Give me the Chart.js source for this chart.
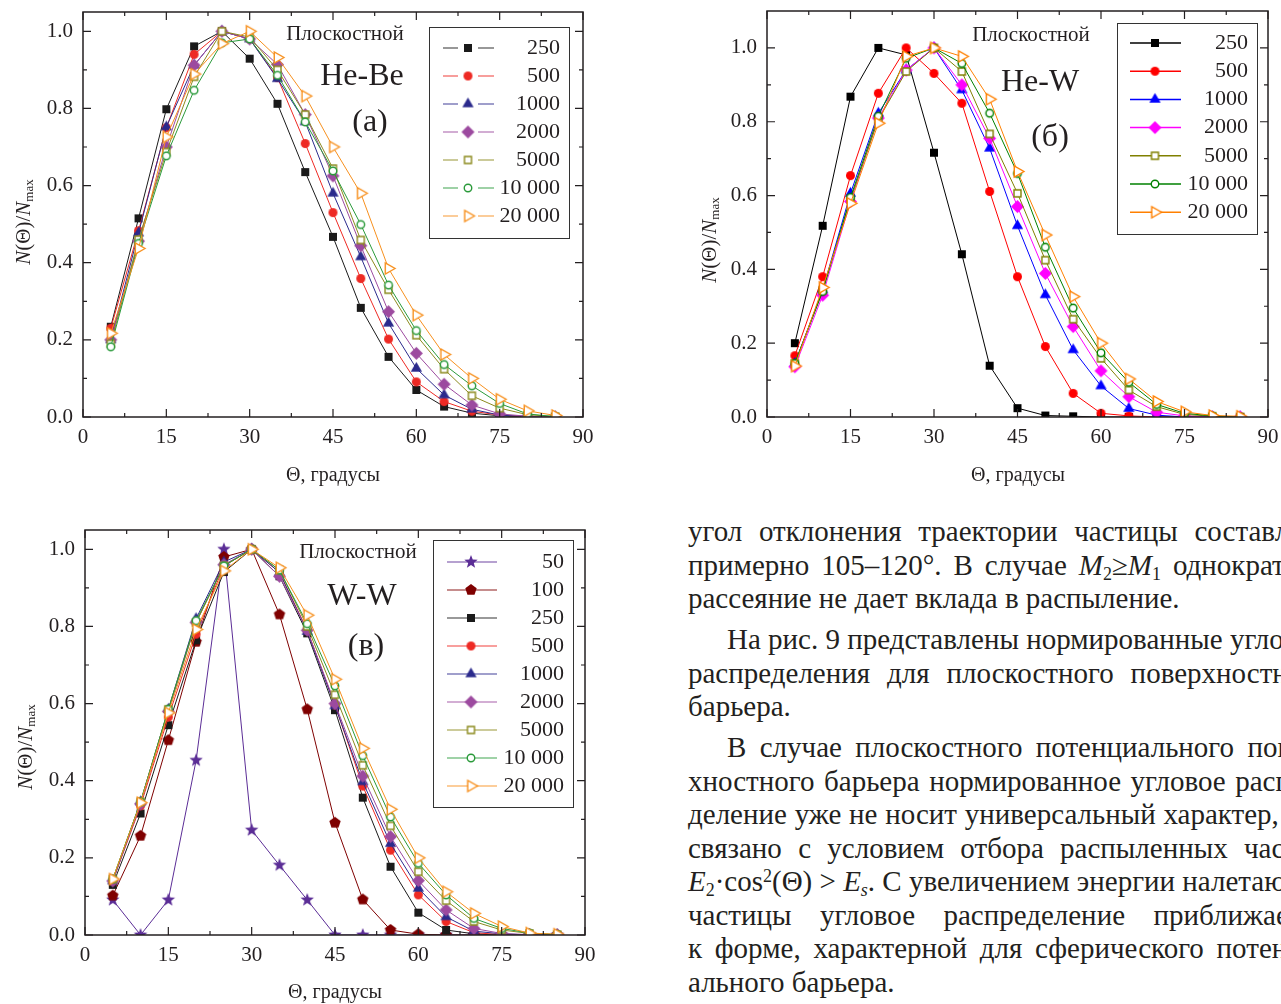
<!DOCTYPE html>
<html lang="ru">
<head>
<meta charset="utf-8">
<title>Угловые распределения, плоскостной барьер</title>
<script src="https://cdn.jsdelivr.net/npm/chart.js@4.4.1/dist/chart.umd.min.js"></script>
<style>
  body { margin: 0; width: 1281px; height: 1004px; position: relative; overflow: hidden; background: #fff; font-family: "Liberation Serif", "Times New Roman", serif; color: #231f20; }
  .panel { position: absolute; }
  .text { position: absolute; left: 688px; top: 515px; width: 640px; white-space: nowrap; font-size: 29px; line-height: 33.5px; }
  .text div { text-align: justify; text-align-last: justify; }
  .text div.end { text-align: left; text-align-last: left; }
  .text div.par { margin-top: 7.5px; padding-left: 39px; }
  .text sub, .text sup { font-size: 0.62em; line-height: 0; }
  .text sub { vertical-align: -0.28em; }
  .text sup { vertical-align: 0.5em; }
</style>
</head>
<body>
<div class="panel" style="left:0;top:0;width:600px;height:500px"><canvas id="chart-a"></canvas></div>
<div class="panel" style="left:680px;top:0;width:601px;height:500px"><canvas id="chart-b"></canvas></div>
<div class="panel" style="left:0;top:520px;width:600px;height:484px"><canvas id="chart-c"></canvas></div>

<div class="text">
  <div>угол отклонения траектории частицы составляет</div>
  <div>примерно 105–120°. В случае <i>M</i><sub>2</sub>≥<i>M</i><sub>1</sub> однократное</div>
  <div class="end">рассеяние не дает вклада в распыление.</div>
  <div class="par">На рис. 9 представлены нормированные угловые</div>
  <div>распределения для плоскостного поверхностного</div>
  <div class="end">барьера.</div>
  <div class="par">В случае плоскостного потенциального повер-</div>
  <div>хностного барьера нормированное угловое распре-</div>
  <div>деление уже не носит универсальный характер, что</div>
  <div>связано с условием отбора распыленных частиц</div>
  <div><i>E</i><sub>2</sub>·cos<sup>2</sup>(Θ) &gt; <i>E<sub>s</sub></i>. С увеличением энергии налетающей</div>
  <div>частицы угловое распределение приближается</div>
  <div>к форме, характерной для сферического потенци-</div>
  <div class="end">ального барьера.</div>
</div>

<script>
// angles of the sputtered particles, degrees
const angles = [5, 10, 15, 20, 25, 30, 35, 40, 45, 50, 55, 60, 65, 70, 75, 80, 85];
const xTicks = [0, 15, 30, 45, 60, 75, 90];
const yTicks = [0.0, 0.2, 0.4, 0.6, 0.8, 1.0];
const energiesHe = ["250", "500", "1000", "2000", "5000", "10 000", "20 000"];
const energiesW = ["50", "100", "250", "500", "1000", "2000", "5000", "10 000", "20 000"];

// He-Be
const heBe250 = [0.234, 0.515, 0.798, 0.961, 1.0, 0.929, 0.812, 0.635, 0.467, 0.283, 0.156, 0.07, 0.027, 0.01, 0.003, 0, 0];
const heBe500 = [0.23, 0.483, 0.75, 0.94, 1.0, 0.98, 0.88, 0.709, 0.53, 0.359, 0.202, 0.091, 0.04, 0.015, 0.005, 0.001, 0];
const heBe1000 = [0.2, 0.477, 0.752, 0.912, 1.0, 0.98, 0.877, 0.765, 0.58, 0.415, 0.243, 0.126, 0.057, 0.02, 0.005, 0.001, 0];
const heBe2000 = [0.2, 0.456, 0.7, 0.912, 1.0, 0.98, 0.914, 0.784, 0.625, 0.444, 0.273, 0.165, 0.085, 0.031, 0.008, 0.002, 0];
const heBe5000 = [0.19, 0.46, 0.687, 0.882, 1.0, 0.985, 0.9, 0.784, 0.644, 0.459, 0.33, 0.212, 0.124, 0.055, 0.023, 0.006, 0.001];
const heBe10000 = [0.182, 0.45, 0.677, 0.847, 0.97, 0.98, 0.886, 0.765, 0.638, 0.499, 0.342, 0.224, 0.136, 0.081, 0.035, 0.008, 0.001];
const heBe20000 = [0.217, 0.437, 0.726, 0.889, 0.968, 1.0, 0.932, 0.832, 0.70, 0.58, 0.385, 0.264, 0.162, 0.1, 0.046, 0.016, 0.004];

// He-W
const heW250 = [0.2, 0.518, 0.868, 1.0, 0.981, 0.716, 0.441, 0.139, 0.024, 0.004, 0.002, 0, 0, 0, 0, 0, 0];
const heW500 = [0.166, 0.38, 0.654, 0.877, 1.0, 0.931, 0.85, 0.611, 0.38, 0.191, 0.064, 0.01, 0.003, 0, 0, 0, 0];
const heW1000 = [0.145, 0.344, 0.606, 0.823, 0.94, 1.0, 0.886, 0.728, 0.518, 0.331, 0.182, 0.084, 0.023, 0.005, 0, 0, 0];
const heW2000 = [0.136, 0.33, 0.584, 0.81, 0.94, 1.0, 0.9, 0.755, 0.57, 0.389, 0.245, 0.125, 0.055, 0.013, 0.003, 0, 0];
const heW5000 = [0.145, 0.344, 0.59, 0.806, 0.936, 1.0, 0.936, 0.767, 0.606, 0.425, 0.265, 0.159, 0.073, 0.028, 0.007, 0.002, 0];
const heW10000 = [0.145, 0.34, 0.595, 0.815, 0.972, 1.0, 0.958, 0.823, 0.66, 0.46, 0.295, 0.174, 0.094, 0.034, 0.01, 0.003, 0];
const heW20000 = [0.138, 0.351, 0.579, 0.796, 0.977, 1.0, 0.977, 0.861, 0.665, 0.493, 0.326, 0.2, 0.103, 0.042, 0.014, 0.004, 0.002];

// W-W
const ww50 = [0.091, 0, 0.091, 0.453, 1.0, 0.272, 0.181, 0.091, 0, 0, 0, 0, 0, 0, 0, 0, 0];
const ww100 = [0.102, 0.257, 0.505, 0.76, 0.98, 1.0, 0.831, 0.585, 0.291, 0.092, 0.013, 0.002, 0, 0, 0, 0, 0];
const ww250 = [0.13, 0.315, 0.544, 0.764, 0.941, 1.0, 0.93, 0.782, 0.583, 0.356, 0.177, 0.058, 0.013, 0.003, 0, 0, 0];
const ww500 = [0.14, 0.335, 0.565, 0.78, 0.957, 1.0, 0.94, 0.79, 0.596, 0.386, 0.22, 0.104, 0.035, 0.006, 0.001, 0, 0];
const ww1000 = [0.14, 0.345, 0.585, 0.82, 0.967, 1.0, 0.94, 0.787, 0.594, 0.397, 0.237, 0.121, 0.047, 0.01, 0.003, 0, 0];
const ww2000 = [0.14, 0.34, 0.58, 0.81, 0.96, 1.0, 0.93, 0.79, 0.6, 0.412, 0.255, 0.141, 0.065, 0.017, 0.004, 0.001, 0];
const ww5000 = [0.145, 0.345, 0.585, 0.81, 0.957, 1.0, 0.946, 0.8, 0.623, 0.44, 0.283, 0.164, 0.089, 0.035, 0.013, 0.004, 0.001];
const ww10000 = [0.145, 0.345, 0.585, 0.815, 0.957, 1.0, 0.946, 0.807, 0.646, 0.465, 0.306, 0.186, 0.104, 0.043, 0.017, 0.005, 0.001];
const ww20000 = [0.145, 0.343, 0.576, 0.792, 0.944, 1.0, 0.952, 0.829, 0.663, 0.484, 0.326, 0.2, 0.112, 0.056, 0.022, 0.005, 0.002];

const ink = "#231f20";
const serif = '"Liberation Serif", "Times New Roman", serif';

// small canvases used as point styles (Chart.js has no filled star or pentagon)
function makeMarker(shape, color, filled, size) {
    const c = document.createElement("canvas");
    c.width = c.height = Math.ceil(size) + 4;
    const g = c.getContext("2d");
    const m = c.width / 2, r = size / 2;
    const poly = (n, start, radii) => {
        for (let i = 0; i < n; i++) {
            const a = start + i * 2 * Math.PI / n;
            const rr = radii ? radii[i % radii.length] : r;
            const px = m + rr * Math.cos(a), py = m + rr * Math.sin(a);
            i === 0 ? g.moveTo(px, py) : g.lineTo(px, py);
        }
        g.closePath();
    };
    g.beginPath();
    if (shape === "square") g.rect(m - r, m - r, size, size);
    else if (shape === "circle") g.arc(m, m, r, 0, Math.PI * 2);
    else if (shape === "diamond") poly(4, -Math.PI / 2);
    else if (shape === "triangle") poly(3, -Math.PI / 2);
    else if (shape === "triRight") poly(3, 0);
    else if (shape === "pentagon") poly(5, -Math.PI / 2);
    else if (shape === "star") poly(10, -Math.PI / 2, [r, r * 0.42]);
    g.fillStyle = filled ? color : "#fff";
    g.fill();
    if (!filled) {
        g.lineWidth = 1.4;
        g.strokeStyle = color;
        g.stroke();
    }
    return c;
}

function series(label, data, color, shape, filled, size) {
    return { label, data, color, marker: makeMarker(shape, color, filled, size) };
}

const panelA = [
    series(energiesHe[0], heBe250, "#1a1a1a", "square", true, 8),
    series(energiesHe[1], heBe500, "#ee2a24", "circle", true, 9),
    series(energiesHe[2], heBe1000, "#2b2a8c", "triangle", true, 13),
    series(energiesHe[3], heBe2000, "#9c4a9f", "diamond", true, 13),
    series(energiesHe[4], heBe5000, "#8c8a1e", "square", false, 7),
    series(energiesHe[5], heBe10000, "#2a9a3a", "circle", false, 7.5),
    series(energiesHe[6], heBe20000, "#f7901e", "triRight", false, 13)
];
const panelB = [
    series(energiesHe[0], heW250, "#000000", "square", true, 8),
    series(energiesHe[1], heW500, "#ff0000", "circle", true, 9),
    series(energiesHe[2], heW1000, "#0000ff", "triangle", true, 13),
    series(energiesHe[3], heW2000, "#ff00ff", "diamond", true, 13),
    series(energiesHe[4], heW5000, "#808000", "square", false, 7),
    series(energiesHe[5], heW10000, "#008000", "circle", false, 7.5),
    series(energiesHe[6], heW20000, "#ff8000", "triRight", false, 13)
];
const panelC = [
    series(energiesW[0], ww50, "#5b2d96", "star", true, 14),
    series(energiesW[1], ww100, "#7f0000", "pentagon", true, 12),
    series(energiesW[2], ww250, "#1a1a1a", "square", true, 8),
    series(energiesW[3], ww500, "#ee2a24", "circle", true, 9),
    series(energiesW[4], ww1000, "#2b2a8c", "triangle", true, 13),
    series(energiesW[5], ww2000, "#9c4a9f", "diamond", true, 13),
    series(energiesW[6], ww5000, "#8c8a1e", "square", false, 7),
    series(energiesW[7], ww10000, "#2a9a3a", "circle", false, 7.5),
    series(energiesW[8], ww20000, "#f7901e", "triRight", false, 13)
];

// axis frame with inward ticks on all four sides, labels, titles, notes and legend
const framePlugin = {
    id: "frame",
    afterDraw(chart, args, opts) {
        const { ctx, chartArea: area, scales: { x, y } } = chart;
        ctx.save();
        ctx.strokeStyle = ink;
        ctx.lineWidth = 1.5;
        ctx.strokeRect(area.left, area.top, area.right - area.left, area.bottom - area.top);

        ctx.lineWidth = 1.2;
        ctx.beginPath();
        for (let i = 0; i <= 12; i++) {
            const px = x.getPixelForValue(i * 7.5);
            const len = i % 2 === 0 ? 8 : 4;
            ctx.moveTo(px, area.bottom); ctx.lineTo(px, area.bottom - len);
            ctx.moveTo(px, area.top); ctx.lineTo(px, area.top + len);
        }
        for (let i = 0; i <= 10; i++) {
            const py = y.getPixelForValue(i / 10);
            const len = i % 2 === 0 ? 8 : 4;
            ctx.moveTo(area.left, py); ctx.lineTo(area.left + len, py);
            ctx.moveTo(area.right, py); ctx.lineTo(area.right - len, py);
        }
        ctx.stroke();

        ctx.fillStyle = ink;
        ctx.font = "21px " + serif;
        ctx.textBaseline = "middle";
        ctx.textAlign = "center";
        xTicks.forEach(v => ctx.fillText(String(v), x.getPixelForValue(v), area.bottom + 20));
        ctx.textAlign = "right";
        yTicks.forEach(v => ctx.fillText(v.toFixed(1), area.left - 10, y.getPixelForValue(v)));

        ctx.font = "20px " + serif;
        ctx.textAlign = "center";
        ctx.fillText("Θ, градусы", opts.xTitle[0], opts.xTitle[1]);

        // N(Θ)/N_max, rotated
        ctx.save();
        ctx.translate(opts.yTitle[0], opts.yTitle[1]);
        ctx.rotate(-Math.PI / 2);
        const parts = [
            ["N", "italic 21px " + serif, 0],
            ["(Θ)/", "21px " + serif, 0],
            ["N", "italic 21px " + serif, 0],
            ["max", "13px " + serif, 6]
        ];
        let total = 0;
        parts.forEach(p => { ctx.font = p[1]; total += ctx.measureText(p[0]).width; });
        let cx = -total / 2;
        ctx.textAlign = "left";
        parts.forEach(p => {
            ctx.font = p[1];
            ctx.fillText(p[0], cx, p[2]);
            cx += ctx.measureText(p[0]).width;
        });
        ctx.restore();

        ctx.textAlign = "center";
        opts.notes.forEach(n => {
            ctx.font = n.size + "px " + serif;
            ctx.fillText(n.text, n.x, n.y);
        });

        const lg = opts.legend;
        ctx.lineWidth = 1;
        ctx.strokeStyle = "#333";
        ctx.strokeRect(lg.box[0] + 0.5, lg.box[1] + 0.5, lg.box[2] - lg.box[0], lg.box[3] - lg.box[1]);
        opts.items.forEach((s, i) => {
            const ly = lg.top + i * lg.step;
            ctx.save();
            ctx.globalAlpha = lg.alpha;
            ctx.strokeStyle = s.color;
            ctx.lineWidth = 1.5;
            ctx.beginPath();
            if (lg.gap) {
                ctx.moveTo(lg.line[0], ly); ctx.lineTo(lg.mark - 10, ly);
                ctx.moveTo(lg.mark + 10, ly); ctx.lineTo(lg.line[1], ly);
            } else {
                ctx.moveTo(lg.line[0], ly); ctx.lineTo(lg.line[1], ly);
            }
            ctx.stroke();
            ctx.restore();
            ctx.drawImage(s.marker, lg.mark - s.marker.width / 2, ly - s.marker.height / 2);
            ctx.font = "22px " + serif;
            ctx.textAlign = "right";
            ctx.fillStyle = ink;
            ctx.fillText(s.label, lg.textRight, ly);
        });
        ctx.restore();
    }
};

function buildChart(id, items, layout) {
    const canvas = document.getElementById(id);
    canvas.width = layout.width;
    canvas.height = layout.height;
    const n = items.length;
    return new Chart(canvas.getContext("2d"), {
        type: "line",
        data: {
            datasets: items.map((s, i) => ({
                label: s.label,
                data: angles.map((a, k) => ({ x: a, y: s.data[k] })),
                borderColor: s.color,
                backgroundColor: s.color,
                borderWidth: 1,
                tension: 0,
                pointStyle: s.marker,
                pointRadius: 5,
                order: n - i
            }))
        },
        options: {
            responsive: false,
            animation: false,
            events: [],
            layout: {
                padding: {
                    left: layout.area[0],
                    top: layout.area[1],
                    right: layout.width - layout.area[2],
                    bottom: layout.height - layout.area[3]
                }
            },
            scales: {
                x: { type: "linear", min: 0, max: 90, display: false },
                y: { type: "linear", min: 0, max: layout.yMax, display: false }
            },
            plugins: {
                legend: { display: false },
                tooltip: { enabled: false },
                frame: {
                    xTitle: layout.xTitle,
                    yTitle: layout.yTitle,
                    notes: layout.notes,
                    legend: layout.legend,
                    items
                }
            }
        },
        plugins: [framePlugin]
    });
}

document.addEventListener("DOMContentLoaded", () => {
    buildChart("chart-a", panelA, {
        width: 600, height: 500, area: [83, 12, 583, 417], yMax: 1.05,
        xTitle: [333, 476], yTitle: [24, 222],
        notes: [
            { text: "Плоскостной", size: 21, x: 345, y: 34 },
            { text: "He-Be", size: 32, x: 362, y: 77 },
            { text: "(a)", size: 32, x: 370, y: 123 }
        ],
        legend: { box: [429, 27, 569, 238], top: 48, step: 28, line: [443, 494], mark: 468, textRight: 560, gap: true, alpha: 0.6 }
    });
    buildChart("chart-b", panelB, {
        width: 601, height: 500, area: [87, 11, 588, 417], yMax: 1.1,
        xTitle: [338, 476], yTitle: [30, 240],
        notes: [
            { text: "Плоскостной", size: 21, x: 351, y: 35 },
            { text: "He-W", size: 32, x: 360, y: 83 },
            { text: "(б)", size: 32, x: 370, y: 138 }
        ],
        legend: { box: [437, 23, 577, 234], top: 43, step: 28.2, line: [450, 501], mark: 475, textRight: 568, gap: false, alpha: 1 }
    });
    buildChart("chart-c", panelC, {
        width: 600, height: 484, area: [85, 10, 585, 415], yMax: 1.05,
        xTitle: [335, 473], yTitle: [26, 227],
        notes: [
            { text: "Плоскостной", size: 21, x: 358, y: 32 },
            { text: "W-W", size: 32, x: 362, y: 77 },
            { text: "(в)", size: 32, x: 366, y: 127 }
        ],
        legend: { box: [433, 20, 573, 287], top: 42, step: 28, line: [447, 497], mark: 471, textRight: 564, gap: false, alpha: 0.6 }
    });
});
</script>
</body>
</html>
